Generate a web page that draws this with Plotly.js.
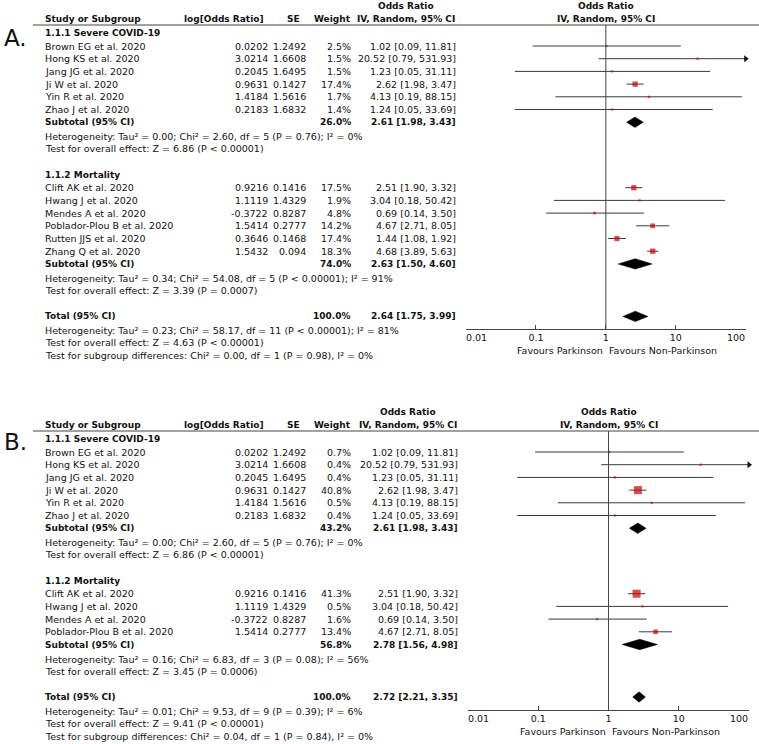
<!DOCTYPE html>
<html><head><meta charset="utf-8">
<script src="https://cdn.plot.ly/plotly-3.0.1.min.js"></script>
<style>html,body{margin:0;padding:0;background:#fff}</style>
</head><body><div id="chart" style="width:759px;height:744px"></div>
<script>
// ---------------- data ----------------
const severeStudies = ["Brown EG et al. 2020","Hong KS et al. 2020","Jang JG et al. 2020","Ji W et al. 2020","Yin R et al. 2020","Zhao J et al. 2020"];
const severeLogOR = [0.0202, 3.0214, 0.2045, 0.9631, 1.4184, 0.2183];
const severeSE    = [1.2492, 1.6608, 1.6495, 0.1427, 1.5616, 1.6832];
const severeOR    = [1.02, 20.52, 1.23, 2.62, 4.13, 1.24];
const severeLo    = [0.09, 0.79, 0.05, 1.98, 0.19, 0.05];
const severeHi    = [11.81, 531.93, 31.11, 3.47, 88.15, 33.69];

const mortalityStudies = ["Clift AK et al. 2020","Hwang J et al. 2020","Mendes A et al. 2020","Poblador-Plou B et al. 2020","Rutten JJS et al. 2020","Zhang Q et al. 2020"];
const mortalityLogOR = [0.9216, 1.1119, -0.3722, 1.5414, 0.3646, 1.5432];
const mortalitySE    = [0.1416, 1.4329, 0.8287, 0.2777, 0.1468, 0.094];
const mortalityOR    = [2.51, 3.04, 0.69, 4.67, 1.44, 4.68];
const mortalityLo    = [1.90, 0.18, 0.14, 2.71, 1.08, 3.89];
const mortalityHi    = [3.32, 50.42, 3.50, 8.05, 1.92, 5.63];

const weightA_severe    = [2.5, 1.5, 1.5, 17.4, 1.7, 1.4];
const weightA_mortality = [17.5, 1.9, 4.8, 14.2, 17.4, 18.3];
const weightB_severe    = [0.7, 0.4, 0.4, 40.8, 0.5, 0.4];
const weightB_mortality = [41.3, 0.5, 1.6, 13.4];

// pooled estimates: [weight %, OR, lower, upper]
const subtotalA_severe    = [26.0, 2.61, 1.98, 3.43];
const subtotalA_mortality = [74.0, 2.63, 1.50, 4.60];
const totalA              = [100.0, 2.64, 1.75, 3.99];
const subtotalB_severe    = [43.2, 2.61, 1.98, 3.43];
const subtotalB_mortality = [56.8, 2.78, 1.56, 4.98];
const totalB              = [100.0, 2.72, 2.21, 3.35];

const statsA = {
  severe: ["Heterogeneity: Tau² = 0.00; Chi² = 2.60, df = 5 (P = 0.76); I² = 0%", "Test for overall effect: Z = 6.86 (P &lt; 0.00001)"],
  mortality: ["Heterogeneity: Tau² = 0.34; Chi² = 54.08, df = 5 (P &lt; 0.00001); I² = 91%", "Test for overall effect: Z = 3.39 (P = 0.0007)"],
  total: ["Heterogeneity: Tau² = 0.23; Chi² = 58.17, df = 11 (P &lt; 0.00001); I² = 81%", "Test for overall effect: Z = 4.63 (P &lt; 0.00001)", "Test for subgroup differences: Chi² = 0.00, df = 1 (P = 0.98), I² = 0%"]
};
const statsB = {
  severe: ["Heterogeneity: Tau² = 0.00; Chi² = 2.60, df = 5 (P = 0.76); I² = 0%", "Test for overall effect: Z = 6.86 (P &lt; 0.00001)"],
  mortality: ["Heterogeneity: Tau² = 0.16; Chi² = 6.83, df = 3 (P = 0.08); I² = 56%", "Test for overall effect: Z = 3.45 (P = 0.0006)"],
  total: ["Heterogeneity: Tau² = 0.01; Chi² = 9.53, df = 9 (P = 0.39); I² = 6%", "Test for overall effect: Z = 9.41 (P &lt; 0.00001)", "Test for subgroup differences: Chi² = 0.04, df = 1 (P = 0.84), I² = 0%"]
};

const groupTitles = ["1.1.1 Severe COVID-19", "1.1.2 Mortality"];
const tickVals = [0.01, 0.1, 1, 10, 100];
const tickLabels = ["0.01", "0.1", "1", "10", "100"];
const favourLeft = "Favours Parkinson";
const favourRight = "Favours Non-Parkinson";

// ---------------- layout helpers ----------------
const W = 759, H = 744;
const FONT = "DejaVu Sans";
const FS = 9.5;
const FSB = 9;
const TXT = "#111";
const XMIN = 0.01, XMAX = 100;
const NULL_EFFECT = 1;

const traces = [];
const annotations = [];
const shapes = [];
const axes = {};

function px(x) { return x / W; }
function ann(text, x, y, anchor, size) {
  annotations.push({
    text: text, xref: 'paper', x: px(x), yref: 'y', y: y,
    xanchor: anchor, yanchor: 'middle', showarrow: false,
    font: {family: FONT, size: size || FS, color: TXT}
  });
}
function bold(text, x, y, anchor) { ann("<b>" + text + "</b>", x, y, anchor, FSB); }
function f2(v) { return v.toFixed(2); }
function orText(or, lo, hi) { return f2(or) + " [" + f2(lo) + ", " + f2(hi) + "]"; }

// first tick label sits to the right of its tick; last one is drawn right-aligned to its tick (RevMan style)
function padSpaces(s) { return s.replace(/[0-9]/g, "\u2007").replace(/\./g, "\u2008"); }
const LAST = tickLabels.length - 1;
const tickText = tickLabels.map(function (t, i) {
  if (i === 0) return padSpaces(t) + t;
  if (i === LAST) return "";
  return t;
});

function buildPanel(p) {
  const col = p.col;
  const xa = p.xaxis;
  const ciX = [], ciY = [], sqX = [], sqY = [], sqS = [], arX = [], arY = [];
  const diamonds = [];
  const step = 12.7;
  const logNull = Math.log10(NULL_EFFECT); // annotations on log axes use log10 units

  annotations.push({text: p.label, xref: 'paper', x: px(2), yref: 'y', y: p.labelY,
    xanchor: 'left', yanchor: 'middle', showarrow: false,
    font: {family: FONT, size: 23, color: TXT}});

  bold("Odds Ratio", col.orCenter, p.top - 19, 'center');
  bold("Study or Subgroup", col.name, p.top - 6, 'left');
  bold("log[Odds Ratio]", col.logHead, p.top - 6, 'right');
  bold("SE", col.seHead, p.top - 6, 'right');
  bold("Weight", col.w, p.top - 6, 'right');
  bold("IV, Random, 95% CI", col.orCenter, p.top - 6, 'center');
  [["Odds Ratio", p.top - 19], ["IV, Random, 95% CI", p.top - 6]].forEach(function (h) {
    annotations.push({text: "<b>" + h[0] + "</b>", xref: xa, x: logNull, yref: 'y', y: h[1],
      xanchor: 'center', yanchor: 'middle', showarrow: false, font: {family: FONT, size: FSB, color: TXT}});
  });
  shapes.push({type: 'line', xref: 'paper', x0: px(33), x1: 1, yref: 'y', y0: p.top, y1: p.top,
    line: {color: '#444', width: 1}});

  let y = p.top + 8;
  const groups = [
    {title: groupTitles[0], n: severeStudies.length, names: severeStudies, lor: severeLogOR, se: severeSE,
     or: severeOR, lo: severeLo, hi: severeHi, w: p.wSevere, sub: p.subSevere, stats: p.stats.severe},
    {title: groupTitles[1], n: p.wMort.length, names: mortalityStudies, lor: mortalityLogOR, se: mortalitySE,
     or: mortalityOR, lo: mortalityLo, hi: mortalityHi, w: p.wMort, sub: p.subMort, stats: p.stats.mortality}
  ];
  groups.forEach(function (g) {
    bold(g.title, col.name, y, 'left');
    y += 13;
    for (let i = 0; i < g.n; i++) {
      ann(g.names[i], col.name, y, 'left');
      ann(String(g.lor[i]), col.log, y, 'right');
      ann(String(g.se[i]), col.se, y, 'right');
      ann(g.w[i].toFixed(1) + "%", col.w, y, 'right');
      ann(orText(g.or[i], g.lo[i], g.hi[i]), col.or, y, 'right');
      ciX.push(Math.max(g.lo[i], XMIN), Math.min(g.hi[i], XMAX), null);
      ciY.push(y, y, null);
      if (g.hi[i] > XMAX) { arX.push(XMAX); arY.push(y); }
      sqX.push(g.or[i]); sqY.push(y); sqS.push(Math.max(2.2, 1.25 * Math.sqrt(g.w[i])));
      y += step;
    }
    bold("Subtotal (95% CI)", col.name, y, 'left');
    bold(g.sub[0].toFixed(1) + "%", col.w, y, 'right');
    bold(orText(g.sub[1], g.sub[2], g.sub[3]), col.or, y, 'right');
    diamonds.push({est: g.sub[1], lo: g.sub[2], hi: g.sub[3], y: y});
    y += 14.5;
    ann(g.stats[0], col.name, y, 'left');
    y += 12;
    ann(g.stats[1], col.name, y, 'left');
    y += 26;
  });
  bold("Total (95% CI)", col.name, y, 'left');
  bold(p.total[0].toFixed(1) + "%", col.w, y, 'right');
  bold(orText(p.total[1], p.total[2], p.total[3]), col.or, y, 'right');
  diamonds.push({est: p.total[1], lo: p.total[2], hi: p.total[3], y: y});
  y += 14.5;
  ann(p.stats.total[0], col.name, y, 'left');
  y += 12;
  ann(p.stats.total[1], col.name, y, 'left');
  y += 12.5;
  ann(p.stats.total[2], col.name, y, 'left');

  shapes.push({type: 'line', xref: xa, x0: NULL_EFFECT, x1: NULL_EFFECT, yref: 'y', y0: p.top, y1: p.axisY,
    line: {color: '#444', width: 1}});

  traces.push({type: 'scatter', mode: 'lines', x: ciX, y: ciY, xaxis: xa, yaxis: 'y',
    line: {color: '#3a3a3a', width: 1}, hoverinfo: 'skip', cliponaxis: false});
  traces.push({type: 'scatter', mode: 'markers', x: arX, y: arY, xaxis: xa, yaxis: 'y',
    marker: {symbol: 'triangle-right', size: 6, color: '#111'}, hoverinfo: 'skip', cliponaxis: false});
  traces.push({type: 'scatter', mode: 'markers', x: sqX, y: sqY, xaxis: xa, yaxis: 'y',
    marker: {symbol: 'square', size: sqS, color: '#cc0000', line: {width: 0}}, hoverinfo: 'skip', cliponaxis: false});
  diamonds.forEach(function (d) {
    const h = 5.2;
    traces.push({type: 'scatter', mode: 'lines', fill: 'toself', fillcolor: '#000',
      x: [d.lo, d.est, d.hi, d.est, d.lo], y: [d.y, d.y - h, d.y, d.y + h, d.y],
      xaxis: xa, yaxis: 'y', line: {color: '#000', width: 0.5}, hoverinfo: 'skip', cliponaxis: false});
  });

  // last tick label, right-aligned to its tick
  annotations.push({text: tickLabels[LAST], xref: xa, x: Math.log10(tickVals[LAST]), yref: 'y', y: p.axisY + 8.5,
    xanchor: 'right', xshift: 1, yanchor: 'middle', showarrow: false, font: {family: FONT, size: FS, color: TXT}});

  annotations.push({text: favourLeft, xref: xa, x: logNull, yref: 'y', y: p.axisY + 21, xanchor: 'right',
    xshift: -1, yanchor: 'middle', showarrow: false, font: {family: FONT, size: FS, color: TXT}});
  annotations.push({text: favourRight, xref: xa, x: logNull, yref: 'y', y: p.axisY + 21, xanchor: 'left',
    xshift: 1, yanchor: 'middle', showarrow: false, font: {family: FONT, size: FS, color: TXT}});

  axes[p.axisKey] = {
    type: 'log', range: [Math.log10(XMIN), Math.log10(XMAX)],
    domain: [px(p.axL), px(p.axR)], anchor: 'free', position: 1 - p.axisY / H,
    showline: true, linecolor: '#444', linewidth: 1,
    ticks: 'inside', ticklen: 4, tickcolor: '#444',
    tickvals: tickVals, ticktext: tickText, ticklabeloverflow: 'allow',
    tickfont: {family: FONT, size: FS, color: TXT},
    showgrid: false, zeroline: false, fixedrange: true
  };
}

buildPanel({
  label: "A.", labelY: 38, top: 25, axisY: 329, xaxis: 'x', axisKey: 'xaxis', axL: 466, axR: 745.7,
  col: {name: 43, logHead: 266, log: 270, seHead: 302, se: 308, w: 353, or: 458, orCenter: 406},
  wSevere: weightA_severe, wMort: weightA_mortality,
  subSevere: subtotalA_severe, subMort: subtotalA_mortality, total: totalA, stats: statsA
});
buildPanel({
  label: "B.", labelY: 442, top: 431, axisY: 710, xaxis: 'x2', axisKey: 'xaxis2', axL: 468, axR: 749,
  col: {name: 43, logHead: 266, log: 270, seHead: 302, se: 308, w: 353, or: 460, orCenter: 408},
  wSevere: weightB_severe, wMort: weightB_mortality,
  subSevere: subtotalB_severe, subMort: subtotalB_mortality, total: totalB, stats: statsB
});

const layout = Object.assign({
  width: W, height: H, margin: {l: 0, r: 0, t: 0, b: 0},
  paper_bgcolor: '#fff', plot_bgcolor: 'rgba(0,0,0,0)', showlegend: false,
  yaxis: {range: [H, 0], domain: [0, 1], visible: false, fixedrange: true},
  annotations: annotations, shapes: shapes,
  font: {family: FONT, size: FS, color: TXT}
}, axes);

Plotly.newPlot('chart', traces, layout, {staticPlot: true, displayModeBar: false});
</script>
</body></html>
